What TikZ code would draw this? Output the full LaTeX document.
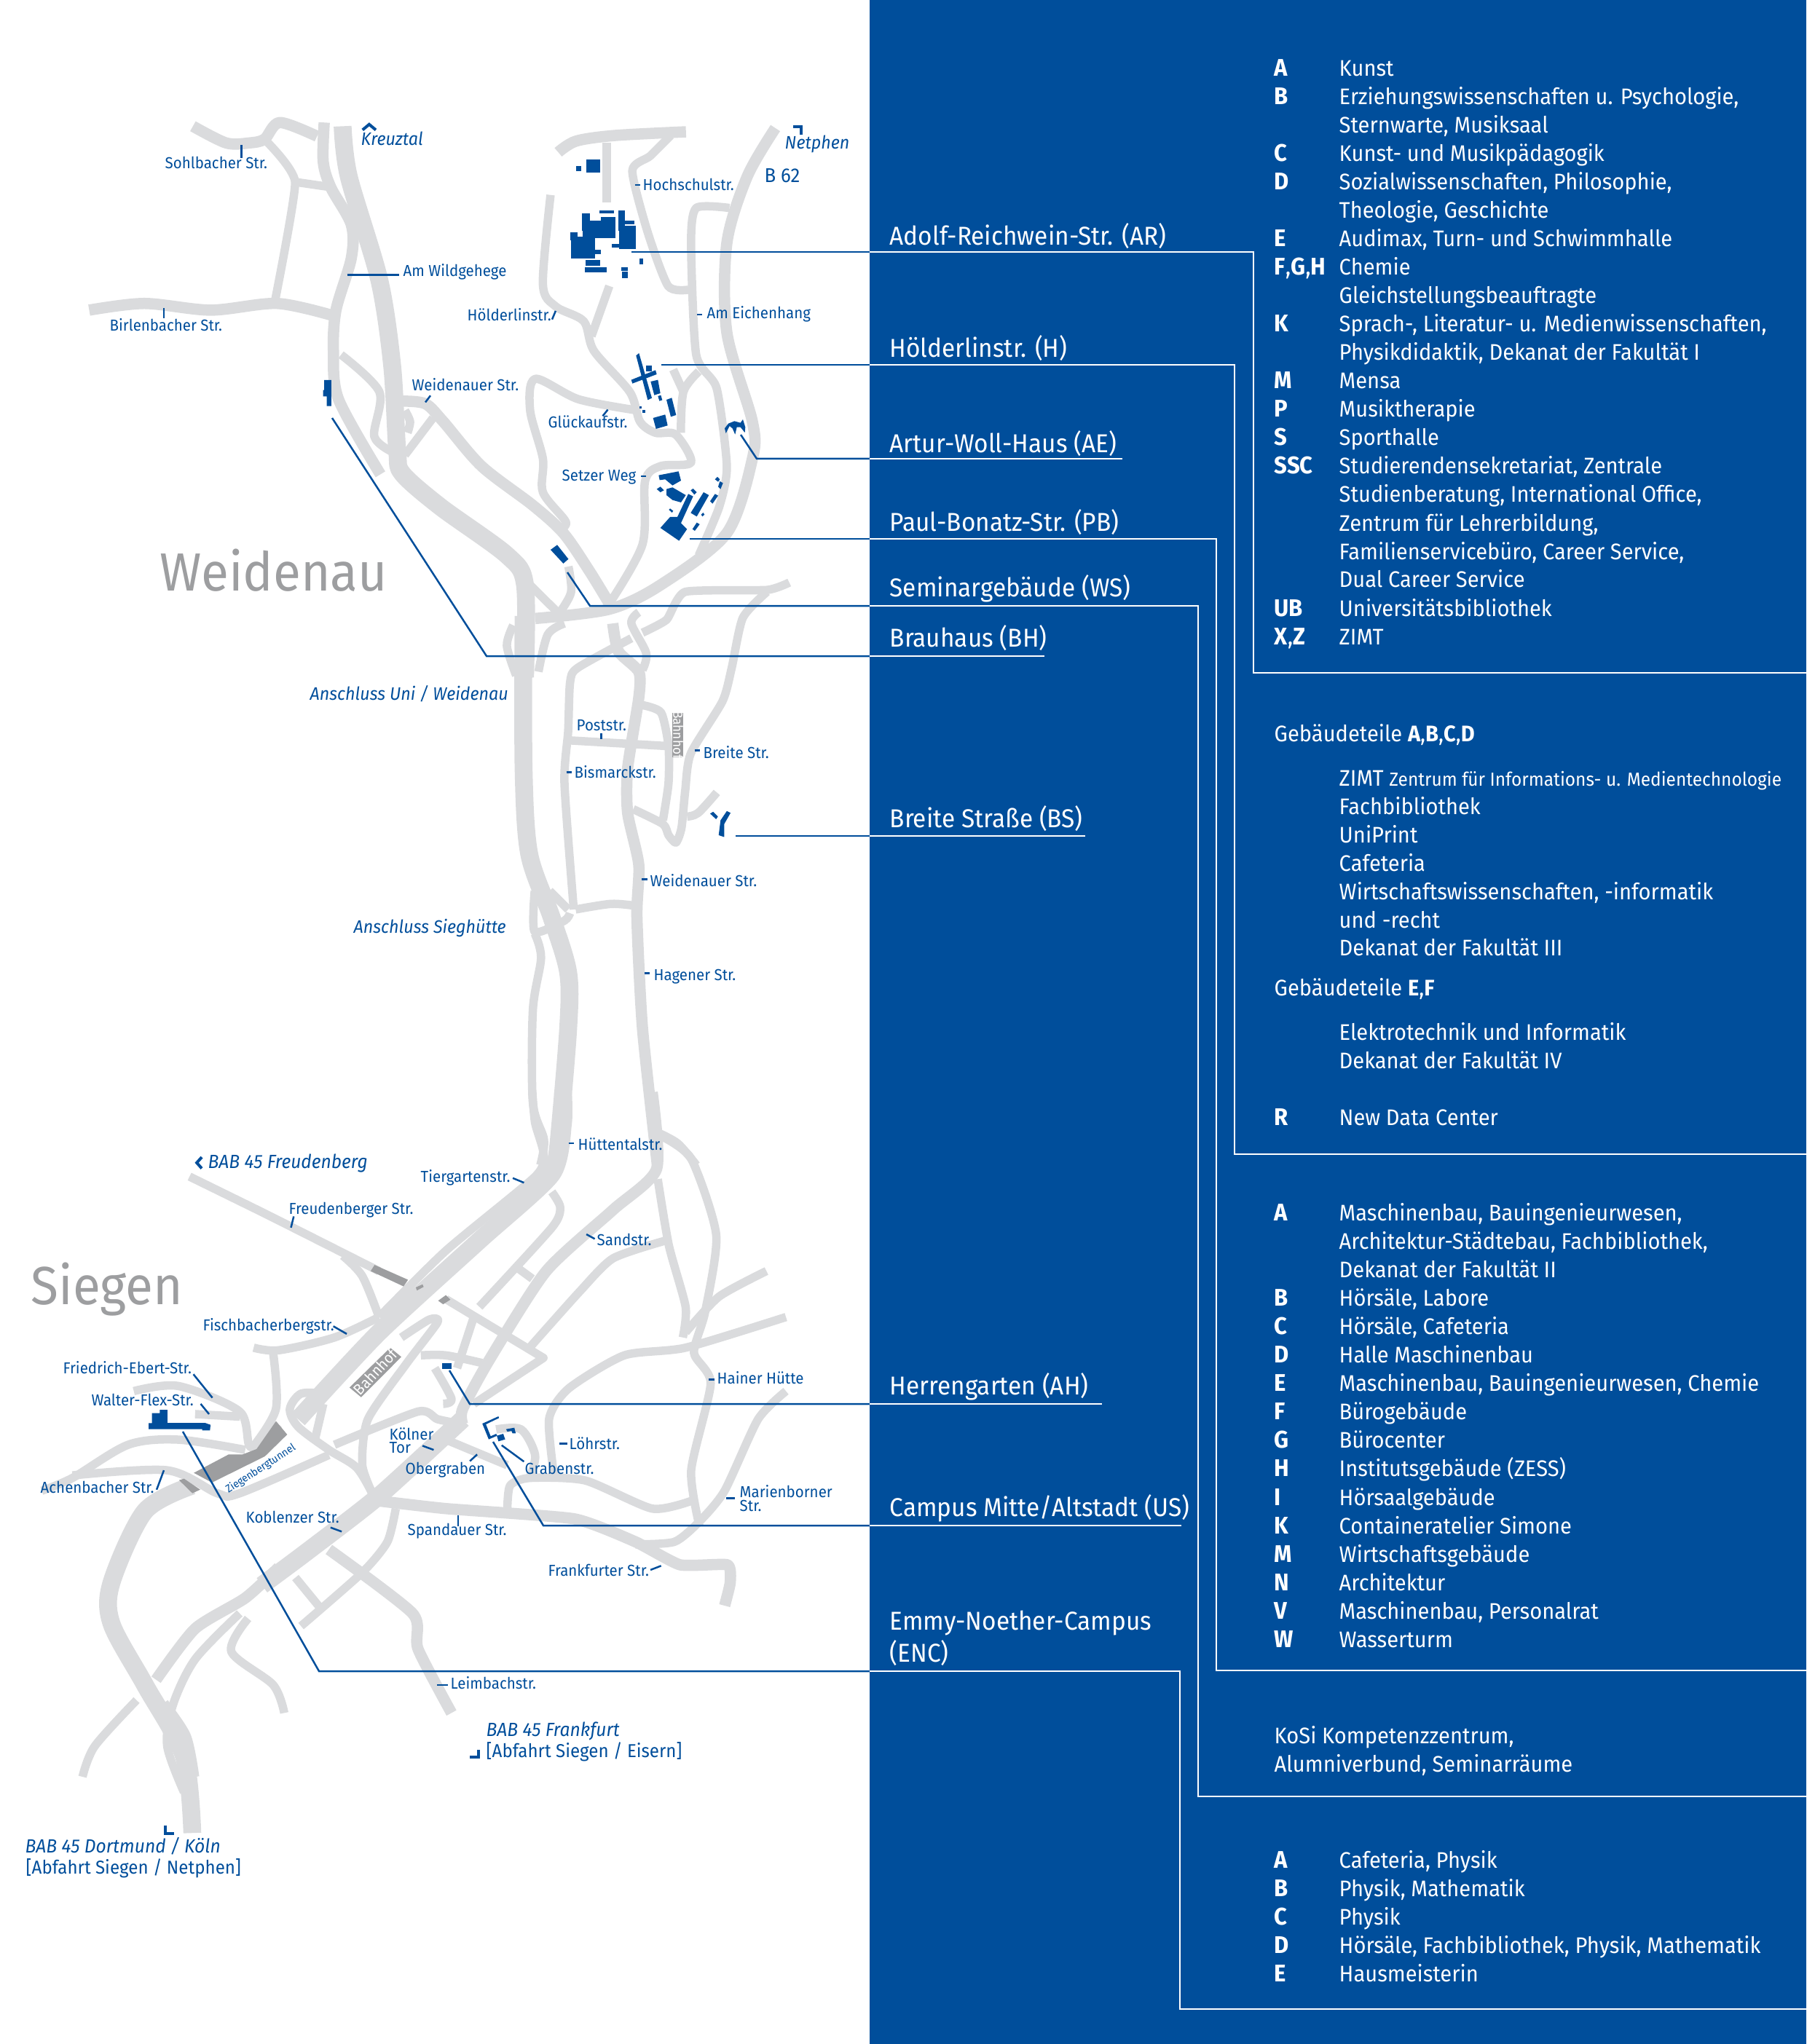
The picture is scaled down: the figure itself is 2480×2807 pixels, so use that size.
\documentclass[tikz,border=0pt]{standalone}
\usepackage{fontspec}
\setmainfont[FakeStretch=0.94]{Fira Sans}
\definecolor{unisiblue}{HTML}{004E9B}
\definecolor{roadgray}{HTML}{DADBDD}
\definecolor{tunnelgray}{HTML}{9D9EA0}

\begin{document}
\begin{tikzpicture}[x=0.01cm,y=-0.01cm]
        % Define styles
        \tikzset{
            sheetnorth/.style={shift={(100,130)},xscale=0.7015,yscale=0.5102},
            sheetmiddle/.style={shift={(400,800)},scale=0.5102},
            sheetsouth/.style={shift={(0,1500)},xscale=0.7653,yscale=0.7015},
            sheettop/.style={shift={(780,130)},scale=0.3333},
            sheetcampus/.style={shift={(860,470)},scale=0.3333},
            sheetdetail/.style={shift={(180,1900)},xscale=0.3827,yscale=0.3333},
            lane/.style={draw=roadgray, line width=0.115cm, line join=round},
            road/.style={draw=roadgray, line width=0.155cm, line join=round},
            motorway/.style={draw=roadgray, line width=0.245cm, line join=round},
            building/.style={fill=unisiblue},
            tunnel/.style={fill=tunnelgray},
            tick/.style={draw=unisiblue, line width=0.25mm},
            pointer/.style={draw=unisiblue, line width=0.4mm, miter limit=4},
            leader/.style={draw=unisiblue, line width=0.25mm},
            leaderwhite/.style={draw=white, line width=0.25mm},
            street/.style={anchor=base west, inner sep=0pt, text=unisiblue, font=\fontsize{6.2}{8}\selectfont},
            junction/.style={street, font=\fontsize{7.05}{9}\selectfont\itshape},
            motorwayexit/.style={street, font=\fontsize{7.45}{9}\selectfont\itshape},
            exitroad/.style={street, font=\fontsize{7.3}{9}\selectfont},
            town/.style={anchor=base west, inner sep=0pt, text=tunnelgray, font=\fontsize{21}{24}\selectfont},
            campus/.style={anchor=base west, inner sep=0pt, text=white, font=\fontsize{10.1}{12}\selectfont},
            entry/.style={anchor=base west, inner sep=0pt, text=white, font=\fontsize{8.8}{11}\selectfont},
            entrykey/.style={entry, font=\fontsize{9.4}{11}\selectfont\bfseries}
        }
        \useasboundingbox (0,0) rectangle (2480,2807);

        % Panel
        \fill[unisiblue] (1194,0) rectangle (2480,2807);

        % Roads, north
        \begin{scope}[sheetnorth]
            \draw[motorway] plot[smooth,tension=0.5] coordinates {(528,85) (540,220) (600,500) (625,730) (635,960) (645,1020) (720,1110) (850,1240) (885,1320) (885,1568)};
            \draw[road] plot[smooth,tension=0.5] coordinates {(235,85) (300,130) (345,130) (375,120) (405,75) (478,112)};
            \draw[lane] plot[smooth,tension=0.3] coordinates {(375,120) (435,235) (395,560)};
            \draw[lane] (435,235) -- (500,248);
            \draw[road] plot[smooth,tension=0.5] coordinates {(492,75) (490,180) (505,250) (545,350) (545,440) (515,580) (510,690) (520,820) (602,1022)};
            \draw[road] plot[smooth,tension=0.5] coordinates {(32,580) (140,562) (270,580) (400,562) (510,595)};
            \draw[lane] plot[smooth,tension=0.5] coordinates {(525,700) (600,800) (590,920) (630,965)};
            \draw[road] plot[smooth,tension=0.5] coordinates {(645,825) (690,832) (725,880) (800,1000) (900,1105) (960,1180) (1010,1280) (1050,1370)};
            \draw[lane] (705,870) -- (650,970);
            \draw[lane] plot[smooth,tension=0.5] coordinates {(650,850) (660,880) (655,910)};
            \draw[road] plot[smooth,tension=0.5] coordinates {(950,155) (985,125) (1060,110) (1200,100)};
            \draw[lane] (1045,130) -- (1045,290);
            \draw[lane] plot[smooth,tension=0.4] coordinates {(1170,110) (1130,165) (1095,205) (1125,370) (1165,515) (1205,525)};
            \draw[lane] plot[smooth,tension=0.5] coordinates {(935,270) (920,510) (945,570) (1000,610) (1020,690) (1090,800) (1110,880) (1140,910) (1180,915) (1210,990) (1150,1000) (1120,1040) (1115,1210) (1050,1370)};
            \draw[lane] (1050,515) -- (1015,650);
            \draw[road] plot[smooth,tension=0.5] coordinates {(1375,90) (1320,220) (1280,400) (1280,640) (1330,880) (1330,980) (1280,1180) (1150,1320) (1050,1385) (905,1410)};
            \draw[lane] plot[smooth,tension=0.4] coordinates {(1285,305) (1220,305) (1210,400) (1220,700) (1260,790) (1280,1000) (1265,1110) (1225,1240)};
            \draw[lane] plot[smooth,tension=0.5] coordinates {(1225,745) (1195,800) (1190,910)};
            \draw[lane] (1175,740) -- (1195,800);
            \draw[lane] plot[smooth,tension=0.5] coordinates {(1105,850) (990,820) (905,765) (895,850) (920,980) (920,1070) (965,1150) (950,1170)};
            \draw[lane] plot[smooth,tension=0.5] coordinates {(970,1270) (975,1340) (950,1400)};
            \draw[lane] (895,1320) -- (950,1395);
        \end{scope}

        % Roads, middle
        \begin{scope}[sheetmiddle]
            \draw[motorway] plot[smooth,tension=0.5] coordinates {(625,90) (625,500) (640,730) (700,900) (745,1050) (745,1200) (720,1500) (710,1568)};
            \draw[lane] plot[smooth,tension=0.5] coordinates {(597,115) (580,170) (605,250)};
            \draw[lane] plot[smooth,tension=0.5] coordinates {(735,110) (690,140) (665,240)};
            \draw[road] plot[smooth,tension=0.4] coordinates {(865,110) (880,185) (935,240) (935,310) (905,500) (905,620) (935,760) (930,900) (945,1200) (985,1568)};
            \draw[lane] plot[smooth,tension=0.4] coordinates {(915,150) (770,230) (750,270) (745,400) (735,540) (760,880)};
            \draw[lane] plot[smooth,tension=0.5] coordinates {(935,80) (915,110) (955,190) (945,235)};
            \draw[lane] plot[smooth,tension=0.3] coordinates {(945,135) (1010,100) (1060,25) (1280,20) (1340,0)};
            \draw[lane] plot[smooth,tension=0.4] coordinates {(1280,25) (1215,95) (1185,230) (1160,320) (1075,460) (1060,560) (1050,660) (1035,700) (1015,680) (1000,650) (920,610)};
            \draw[lane] plot[smooth,tension=0.4] coordinates {(945,330) (995,350) (1015,440) (1015,540) (1000,640)};
            \draw[lane] (750,425) -- (1010,440);
            \draw[lane] plot[smooth,tension=0.5] coordinates {(1065,630) (1095,620) (1145,565)};
            \draw[lane] plot[smooth,tension=0.5] coordinates {(765,880) (860,865) (925,870)};
            \draw[lane] plot[smooth,tension=0.4] coordinates {(655,830) (655,940) (735,910) (750,890)};
            \draw[lane] plot[smooth,tension=0.5] coordinates {(655,945) (672,1010) (650,1150) (650,1400) (680,1500) (670,1568)};
            \draw[lane] (695,830) -- (745,880);
            \draw[lane] plot[smooth,tension=0.5] coordinates {(985,1480) (1040,1510) (1090,1568)};
        \end{scope}

        % Roads, south
        \begin{scope}[sheetsouth]
            \draw[motorway] plot[smooth,tension=0.4] coordinates {(1010,0) (1010,60) (990,160) (860,290) (680,470) (535,640)};
            \draw[motorway] plot[smooth,tension=0.5] coordinates {(345,770) (260,820) (200,960) (200,1040) (260,1160) (330,1300) (345,1450)};
            \draw[lane] plot[smooth,tension=0.4] coordinates {(955,0) (960,60) (975,120) (960,165) (800,310) (680,440)};
            \draw[road] plot[smooth,tension=0.4] coordinates {(1170,0) (1178,150) (1100,230) (980,350) (880,520) (830,620) (830,650)};
            \draw[motorway] plot[smooth,tension=0.4] coordinates {(830,640) (680,790) (550,900) (470,965)};
            \draw[road] plot[smooth,tension=0.4] coordinates {(500,930) (440,990) (350,1050) (280,1150)};
            \draw[lane] plot[smooth,tension=0.4] coordinates {(990,195) (1005,225) (990,265) (860,420)};
            \draw[lane] (930,345) -- (955,365);
            \draw[lane] plot[smooth,tension=0.4] coordinates {(1180,170) (1200,300) (1230,420) (1225,480)};
            \draw[lane] plot[smooth,tension=0.4] coordinates {(1185,85) (1240,130) (1285,280) (1265,430) (1245,510) (1275,570) (1240,740) (1255,850)};
            \draw[lane] plot[smooth,tension=0.4] coordinates {(1195,290) (1100,325) (1040,390) (950,500)};
            \draw[lane] plot[smooth,tension=0.2] coordinates {(340,165) (480,240) (680,350)};
            \draw[lane] (800,405) -- (975,520) -- (850,610);
            \draw[lane] plot[smooth,tension=0.5] coordinates {(615,320) (650,360) (680,440)};
            \draw[lane] plot[smooth,tension=0.5] coordinates {(455,500) (500,505) (600,480) (680,440)};
            \draw[lane] plot[smooth,tension=0.5] coordinates {(490,510) (495,620) (450,700)};
            \draw[lane] plot[smooth,tension=0.5] coordinates {(240,585) (320,575) (430,625) (450,695) (500,650)};
            \draw[lane] (350,630) -- (430,635);
            \draw[lane] plot[smooth,tension=0.5] coordinates {(75,780) (130,755) (230,690) (320,680) (440,700)};
            \draw[lane] plot[smooth,tension=0.5] coordinates {(130,750) (300,740) (390,785) (430,785) (590,710)};
            \draw[lane] plot[smooth,tension=0.4] coordinates {(600,690) (750,625) (785,640) (830,650)};
            \draw[lane] plot[smooth,tension=0.5] coordinates {(580,590) (540,590) (520,620) (535,655) (590,700) (640,735) (670,790)};
            \draw[lane] plot[smooth,tension=0.5] coordinates {(580,610) (565,680)};
            \draw[lane] plot[smooth,tension=0.4] coordinates {(670,790) (650,730) (660,640) (730,530) (785,450) (770,445) (720,480)};
            \draw[road] plot[smooth,tension=0.3] coordinates {(680,800) (800,815) (1030,835) (1140,880) (1220,925) (1305,925) (1310,960) (1300,1005)};
            \draw[lane] plot[smooth,tension=0.4] coordinates {(710,815) (695,880) (650,940) (540,1045)};
            \draw[road] plot[smooth,tension=0.4] coordinates {(590,895) (740,1020) (750,1090) (810,1215)};
            \draw[lane] (530,950) -- (575,1010);
            \draw[lane] plot[smooth,tension=0.4] coordinates {(910,820) (915,770) (950,755) (1050,760) (1170,815) (1240,800)};
            \draw[lane] plot[smooth,tension=0.4] coordinates {(1140,885) (1210,880) (1255,840) (1300,780) (1360,640) (1410,585)};
            \draw[lane] plot[smooth,tension=0.4] coordinates {(995,760) (985,640) (1020,580) (1120,515) (1230,500) (1410,440)};
            \draw[lane] plot[smooth,tension=0.4] coordinates {(1230,470) (1290,400) (1375,350)};
            \draw[lane] (850,440) -- (820,540);
            \draw[lane] plot[smooth,tension=0.5] coordinates {(755,515) (800,515) (865,530)};
            \draw[lane] plot[smooth,tension=0.5] coordinates {(780,540) (810,600) (795,610)};
            \draw[lane] (800,680) -- (910,730);
            \draw[lane] plot[smooth,tension=0.5] coordinates {(890,660) (935,660) (960,710) (950,755)};
            \draw[lane] plot[smooth,tension=0.5] coordinates {(445,1030) (415,1095) (490,1160) (510,1215)};
            \draw[lane] plot[smooth,tension=0.5] coordinates {(430,1020) (350,1110) (310,1200) (300,1280) (330,1370)};
            \draw[lane] plot[smooth,tension=0.5] coordinates {(245,1190) (170,1280) (148,1340)};
            \draw[lane] plot[smooth,tension=0.5] coordinates {(295,1195) (335,1260) (350,1340)};

            % Stations
            \fill[tunnel] (665,350) -- (672,338) -- (732,367) -- (724,380) -- cycle;
            \fill[tunnel] (786,408) -- (800,397) -- (808,406) -- (795,415) -- cycle;
            \fill[tunnel] (746,382) -- (758,376) -- (760,381) -- (748,388) -- cycle;
            \fill[tunnel] (627,578) -- (700,500) -- (720,518) -- (648,597) -- cycle;
        \end{scope}
        \begin{scope}[sheetdetail]
            % Tunnel mouths
            \fill[tunnel] (225,368) -- (350,292) -- (400,292) -- (450,270) -- (520,155) -- (560,210) -- (480,300) -- (290,408) -- cycle;
            \fill[tunnel] (172,398) -- (190,392) -- (248,437) -- (220,452) -- cycle;
        \end{scope}
        \fill[tunnel] (923,979) rectangle (938,1040);

        % Labels on tunnels and stations
        \node[rotate=47, text=white, inner sep=0pt, font=\fontsize{6}{7}\selectfont] (station_south) at (515,1884) {Bahnhof};
        \node[rotate=-90, text=white, inner sep=0pt, font=\fontsize{5.2}{6}\selectfont] (station_north) at (931,1009) {Bahnhof};
        \node[rotate=33, text=unisiblue, inner sep=0pt, font=\fontsize{4.2}{5}\selectfont] (tunnel_label) at (358,2017) {Ziegenbergtunnel};

        % Buildings
        \begin{scope}[sheettop]
            \foreach \xa/\ya/\xb/\yb in {76/268/132/322, 32/295/55/315, 8/568/38/600, 12/585/110/675, 58/490/90/560, 60/520/135/590, 135/505/195/590, 130/478/190/490, 208/478/235/560, 210/540/278/635, 232/520/272/535, 180/615/235/630, 110/640/135/658, 72/680/132/705, 70/712/158/732, 295/675/310/700, 218/710/245/725, 222/730/245/755}
                \fill[building] (\xa,\ya) rectangle (\xb,\yb);
        \end{scope}
        \begin{scope}[sheetcampus]
            % Hoelderlinstr.
            \fill[building] (40,55) -- (52,45) -- (105,230) -- (88,238) -- cycle;
            \fill[building] (20,155) -- (120,115) -- (125,132) -- (25,170) -- cycle;
            \fill[building] (80,97) rectangle (105,120);
            \fill[building] (100,162) -- (130,155) -- (140,210) -- (115,218) -- cycle;
            \fill[building] (130,222) -- (142,218) -- (148,238) -- (136,242) -- cycle;
            \fill[building] (165,237) -- (187,229) -- (205,300) -- (183,307) -- cycle;
            \fill[building] (110,312) -- (160,298) -- (170,343) -- (122,357) -- cycle;
            \fill[building] (55,265) rectangle (62,272);
            \fill[building] (65,278) rectangle (78,290);
            % Artur-Woll-Haus
            \fill[building] (405,355) -- (420,335) -- (445,325) -- (470,332) -- (480,318) -- (490,350) -- (488,372) -- (470,350) -- (455,350) -- (448,380) -- (437,355) -- (425,345) -- (410,375) -- cycle;
            % Paul-Bonatz-Str.
            \fill[building] (133,548) -- (215,532) -- (225,570) -- (190,590) -- (160,565) -- (137,568) -- cycle;
            \fill[building] (125,605) -- (140,595) -- (155,610) -- (140,618) -- cycle;
            \fill[building] (165,605) -- (190,598) -- (245,630) -- (225,660) -- (190,650) -- (165,630) -- cycle;
            \fill[building] (140,765) -- (180,720) -- (210,720) -- (255,625) -- (275,635) -- (225,745) -- (250,770) -- (217,818) -- cycle;
            \fill[building] (265,610) -- (275,603) -- (290,618) -- (280,628) -- cycle;
            \fill[building] (318,618) -- (340,630) -- (290,718) -- (265,703) -- cycle;
            \fill[building] (365,565) -- (375,555) -- (385,565) -- (378,575) -- cycle;
            \fill[building] (378,595) -- (385,573) -- (398,580) -- (388,605) -- cycle;
            \fill[building] (345,655) -- (365,625) -- (378,632) -- (355,665) -- cycle;
            \fill[building] (272,770) -- (290,743) -- (302,750) -- (282,777) -- cycle;
            \fill[building] (308,710) -- (316,702) -- (322,710) -- (313,718) -- cycle;
            \fill[building] (175,690) -- (180,685) -- (193,695) -- (188,702) -- cycle;
        \end{scope}
        \begin{scope}[sheetnorth]
            % Seminargebaeude
            \fill[building] (935,1225) -- (948,1212) -- (970,1250) -- (960,1262) -- cycle;
            % Brauhaus
            \fill[building] (492,768) -- (506,768) -- (506,838) -- (497,838) -- (497,812) -- (490,812) -- (490,795) -- (492,795) -- cycle;
        \end{scope}
        \begin{scope}[sheetmiddle]
            % Breite Strasse
            \fill[building] (1127,622) -- (1135,617) -- (1148,630) -- (1143,637) -- cycle;
            \fill[building] (1150,680) -- (1155,640) -- (1172,615) -- (1182,620) -- (1165,650) -- (1165,685) -- cycle;
        \end{scope}
        \begin{scope}[sheetsouth]
            % Herrengarten
            \fill[building] (793,530) rectangle (810,541);
        \end{scope}
        \begin{scope}[sheetdetail]
            % Campus Mitte / Altstadt
            \fill[building] (1260,165) -- (1318,135) -- (1320,142) -- (1273,168) -- (1290,217) -- (1310,207) -- (1313,215) -- (1283,230) -- cycle;
            \fill[building] (1312,215) -- (1335,207) -- (1342,230) -- (1318,238) -- cycle;
            \fill[building] (1345,188) -- (1375,182) -- (1380,205) -- (1368,205) -- (1365,195) -- (1350,198) -- cycle;
            % Emmy-Noether-Campus
            \fill[building] (63,163) -- (75,163) -- (75,122) -- (103,122) -- (103,108) -- (130,108) -- (130,162) -- (265,162) -- (285,170) -- (283,193) -- (255,193) -- (255,188) -- (63,188) -- cycle;
        \end{scope}

        % Street ticks
        \begin{scope}[sheetnorth]
            \foreach \xa/\ya/\xb/\yb in {330/135/330/170, 178/575/178/602, 537/485/638/485, 945/582/938/605, 1100/243/1110/243, 1222/592/1232/592, 700/810/690/828, 1047/848/1037/865, 1112/1027/1122/1027}
                \draw[tick] (\xa,\ya) -- (\xb,\yb);
        \end{scope}
        \begin{scope}[sheetmiddle]
            \foreach \xa/\ya/\xb/\yb in {834/405/834/422, 1085/452/1100/452, 740/511/755/511, 943/799/958/799, 950/1052/965/1052, 746/1509/760/1509}
                \draw[tick] (\xa,\ya) -- (\xb,\yb);
        \end{scope}
        \begin{scope}[sheetsouth]
            \foreach \xa/\ya/\xb/\yb in {920/168/940/177, 527/243/522/265, 1052/278/1067/287, 598/458/622/473, 347/552/381/598, 360/610/375/630, 1272/562/1282/562, 758/692/778/700, 1003/688/1018/688, 856/709/843/722, 900/691/940/723, 294/740/281/778, 1303/795/1318/795, 593/852/613/860, 822/828/822/850, 1167/935/1186/927, 784/1160/803/1160}
                \draw[tick] (\xa,\ya) -- (\xb,\yb);
            % Direction marks
            \draw[pointer] (362,127) -- (353,138) -- (362,149);
            \draw[pointer] (296,1435) -- (296,1451) -- (312,1451);
            \draw[pointer] (843,1302) -- (858,1302) -- (858,1287);
        \end{scope}
        \begin{scope}[sheetnorth]
            \draw[pointer] (567,95) -- (580,80) -- (593,95);
            \draw[pointer] (1410,87) -- (1425,87) -- (1425,108);
        \end{scope}

        % Street labels
        \node[street] (sohlbacher) at (226,232) {Sohlbacher Str.};
        \node[street] (birlenbacher) at (150,455) {Birlenbacher Str.};
        \node[street] (wildgehege) at (553,380) {Am Wildgehege};
        \node[street] (hoelderlin) at (641,441) {Hölderlinstr.};
        \node[street] (hochschul) at (882,262) {Hochschulstr.};
        \node[street] (eichenhang) at (970,438) {Am Eichenhang};
        \node[street] (weidenauer_north) at (565,537) {Weidenauer Str.};
        \node[street] (glueckauf) at (752,588) {Glückaufstr.};
        \node[street] (setzer) at (771,661) {Setzer Weg};
        \node[street] (poststr) at (791,1003) {Poststr.};
        \node[street] (breite) at (965,1041) {Breite Str.};
        \node[street] (bismarck) at (788,1068) {Bismarckstr.};
        \node[street] (weidenauer_south) at (892,1217) {Weidenauer Str.};
        \node[street] (hagener) at (897,1346) {Hagener Str.};
        \node[street] (huettental) at (793,1579) {Hüttentalstr.};
        \node[street] (tiergarten) at (577,1623) {Tiergartenstr.};
        \node[street] (freudenberger) at (396,1667) {Freudenberger Str.};
        \node[street] (sandstr) at (819,1710) {Sandstr.};
        \node[street] (fischbacher) at (278,1827) {Fischbacherbergstr.};
        \node[street] (friedrich) at (86,1886) {Friedrich-Ebert-Str.};
        \node[street] (walter) at (125,1930) {Walter-Flex-Str.};
        \node[street] (hainer) at (984,1900) {Hainer Hütte};
        \node[street] (koelner) at (534,1977) {Kölner};
        \node[street] (koelnertor) at (534,1995) {Tor};
        \node[street] (loehr) at (781,1990) {Löhrstr.};
        \node[street] (obergraben) at (556,2024) {Obergraben};
        \node[street] (graben) at (720,2024) {Grabenstr.};
        \node[street] (achenbacher) at (55,2050) {Achenbacher Str.};
        \node[street] (marienborner) at (1015,2056) {Marienborner};
        \node[street] (marienbornerstr) at (1015,2075) {Str.};
        \node[street] (koblenzer) at (337,2091) {Koblenzer Str.};
        \node[street] (spandauer) at (559,2108) {Spandauer Str.};
        \node[street] (frankfurter) at (752,2164) {Frankfurter Str.};
        \node[street] (leimbach) at (618,2319) {Leimbachstr.};

        % Junction labels
        \node[junction] (kreuztal) at (495,200) {Kreuztal};
        \node[junction] (netphen) at (1077,205) {Netphen};
        \node[street, font=\fontsize{7.8}{9}\selectfont] (b62) at (1049,251) {B 62};
        \node[junction] (anschluss_uni) at (425,961) {Anschluss Uni / Weidenau};
        \node[junction] (anschluss_sieg) at (485,1281) {Anschluss Sieghütte};
        \node[motorwayexit] (freudenberg) at (285,1604) {BAB 45 Freudenberg};
        \node[motorwayexit] (frankfurt) at (667,2384) {BAB 45 Frankfurt};
        \node[exitroad] (eisern) at (667,2413) {[Abfahrt Siegen / Eisern]};
        \node[motorwayexit] (dortmund) at (34,2544) {BAB 45 Dortmund / Köln};
        \node[exitroad] (netphen_exit) at (35,2573) {[Abfahrt Siegen / Netphen]};

        % Towns
        \node[town] (weidenau) at (219,811) {Weidenau};
        \node[town] (siegen) at (42,1791) {Siegen};

        % Campus labels
        \node[campus] (label_ar) at (1221,337) {Adolf-Reichwein-Str. (AR)};
        \node[campus] (label_h) at (1221,491) {Hölderlinstr. (H)};
        \node[campus] (label_ae) at (1221,622) {Artur-Woll-Haus (AE)};
        \node[campus] (label_pb) at (1221,729) {Paul-Bonatz-Str. (PB)};
        \node[campus] (label_ws) at (1221,819) {Seminargebäude (WS)};
        \node[campus] (label_bh) at (1221,888) {Brauhaus (BH)};
        \node[campus] (label_bs) at (1221,1136) {Breite Straße (BS)};
        \node[campus] (label_ah) at (1221,1915) {Herrengarten (AH)};
        \node[campus] (label_us) at (1221,2082) {Campus Mitte/Altstadt (US)};
        \node[campus] (label_enc) at (1221,2238) {Emmy-Noether-Campus};
        \node[campus] (label_enc_short) at (1221,2282) {(ENC)};

        % Leader points
        \coordinate (ar_start) at (867,346);
        \coordinate (ar_edge) at (1194,346);
        \coordinate (ar_turn) at (1721,346);
        \coordinate (ar_foot) at (1721,924);
        \coordinate (ar_end) at (2480,924);
        \coordinate (h_start) at (908,501);
        \coordinate (h_edge) at (1194,501);
        \coordinate (h_turn) at (1695,501);
        \coordinate (h_foot) at (1695,1585);
        \coordinate (h_end) at (2480,1585);
        \coordinate (ae_start) at (1017,597);
        \coordinate (ae_bend) at (1039,630);
        \coordinate (ae_edge) at (1194,630);
        \coordinate (ae_end) at (1541,630);
        \coordinate (pb_start) at (947,740);
        \coordinate (pb_edge) at (1194,740);
        \coordinate (pb_turn) at (1670,740);
        \coordinate (pb_foot) at (1670,2294);
        \coordinate (pb_end) at (2480,2294);
        \coordinate (ws_start) at (779,786);
        \coordinate (ws_bend) at (810,832);
        \coordinate (ws_edge) at (1194,832);
        \coordinate (ws_turn) at (1645,832);
        \coordinate (ws_foot) at (1645,2467);
        \coordinate (ws_end) at (2480,2467);
        \coordinate (bh_start) at (456,574);
        \coordinate (bh_bend) at (668,901);
        \coordinate (bh_edge) at (1194,901);
        \coordinate (bh_end) at (1434,901);
        \coordinate (bs_start) at (1010,1148);
        \coordinate (bs_edge) at (1194,1148);
        \coordinate (bs_end) at (1490,1148);
        \coordinate (ah_start) at (617,1882);
        \coordinate (ah_bend) at (645,1928);
        \coordinate (ah_edge) at (1194,1928);
        \coordinate (ah_end) at (1513,1928);
        \coordinate (us_start) at (677,1980);
        \coordinate (us_bend) at (746,2095);
        \coordinate (us_edge) at (1194,2095);
        \coordinate (us_end) at (1622,2095);
        \coordinate (enc_start) at (251,1966);
        \coordinate (enc_bend) at (438,2295);
        \coordinate (enc_edge) at (1194,2295);
        \coordinate (enc_turn) at (1620,2295);
        \coordinate (enc_foot) at (1620,2759);
        \coordinate (enc_end) at (2480,2759);

        % Leaders
        \draw[leader] (ar_start) -- (ar_edge);
        \draw[leaderwhite] (ar_edge) -- (ar_turn) -- (ar_foot) -- (ar_end);
        \draw[leader] (h_start) -- (h_edge);
        \draw[leaderwhite] (h_edge) -- (h_turn) -- (h_foot) -- (h_end);
        \draw[leader] (ae_start) -- (ae_bend) -- (ae_edge);
        \draw[leaderwhite] (ae_edge) -- (ae_end);
        \draw[leader] (pb_start) -- (pb_edge);
        \draw[leaderwhite] (pb_edge) -- (pb_turn) -- (pb_foot) -- (pb_end);
        \draw[leader] (ws_start) -- (ws_bend) -- (ws_edge);
        \draw[leaderwhite] (ws_edge) -- (ws_turn) -- (ws_foot) -- (ws_end);
        \draw[leader] (bh_start) -- (bh_bend) -- (bh_edge);
        \draw[leaderwhite] (bh_edge) -- (bh_end);
        \draw[leader] (bs_start) -- (bs_edge);
        \draw[leaderwhite] (bs_edge) -- (bs_end);
        \draw[leader] (ah_start) -- (ah_bend) -- (ah_edge);
        \draw[leaderwhite] (ah_edge) -- (ah_end);
        \draw[leader] (us_start) -- (us_bend) -- (us_edge);
        \draw[leaderwhite] (us_edge) -- (us_end);
        \draw[leader] (enc_start) -- (enc_bend) -- (enc_edge);
        \draw[leaderwhite] (enc_edge) -- (enc_turn) -- (enc_foot) -- (enc_end);

        % Panel keys
        \foreach \y/\k [count=\i] in {105/A, 144/B, 222/C, 261/D, 339/E, 378/{F{\mdseries,}G{\mdseries,}H}, 456/K, 534/M, 573/P, 612/S, 651/SSC, 846/UB, 885/{X{\mdseries,}Z},
                               1545/R,
                               1676/A, 1793/B, 1832/C, 1871/D, 1910/E, 1949/F, 1988/G, 2027/H, 2067/I, 2106/K, 2145/M, 2184/N, 2223/V, 2262/W,
                               2565/A, 2604/B, 2643/C, 2682/D, 2721/E}
            \node[entrykey] (key\i) at (1749,\y) {\k};

        % Panel entries
        \foreach \y/\t [count=\i] in {105/Kunst, 144/{Erziehungswissenschaften u. Psychologie,}, 183/{Sternwarte, Musiksaal}, 222/Kunst- und Musikpädagogik, 261/{Sozialwissenschaften, Philosophie,}, 300/{Theologie, Geschichte}, 339/{Audimax, Turn- und Schwimmhalle}, 378/Chemie, 417/Gleichstellungsbeauftragte, 456/{Sprach-, Literatur- u. Medienwissenschaften,}, 495/{Physikdidaktik, Dekanat der Fakultät I}, 534/Mensa, 573/Musiktherapie, 612/Sporthalle, 651/{Studierendensekretariat, Zentrale}, 690/{Studienberatung, International Office,}, 729/{Zentrum für Lehrerbildung,}, 768/{Familienservicebüro, Career Service,}, 807/Dual Career Service, 846/Universitätsbibliothek, 885/ZIMT,
                               1079/{ZIMT {\fontsize{7.4}{9}\selectfont Zentrum für Informations- u. Medientechnologie}}, 1118/Fachbibliothek, 1157/UniPrint, 1196/Cafeteria, 1235/{Wirtschaftswissenschaften, -informatik}, 1274/und -recht, 1312/Dekanat der Fakultät III, 1428/Elektrotechnik und Informatik, 1467/Dekanat der Fakultät IV, 1545/New Data Center,
                               1676/{Maschinenbau, Bauingenieurwesen,}, 1715/{Architektur-Städtebau, Fachbibliothek,}, 1754/Dekanat der Fakultät II, 1793/{Hörsäle, Labore}, 1832/{Hörsäle, Cafeteria}, 1871/Halle Maschinenbau, 1910/{Maschinenbau, Bauingenieurwesen, Chemie}, 1949/Bürogebäude, 1988/Bürocenter, 2027/Institutsgebäude (ZESS), 2067/Hörsaalgebäude, 2106/Containeratelier Simone, 2145/Wirtschaftsgebäude, 2184/Architektur, 2223/{Maschinenbau, Personalrat}, 2262/Wasserturm,
                               2565/{Cafeteria, Physik}, 2604/{Physik, Mathematik}, 2643/Physik, 2682/{Hörsäle, Fachbibliothek, Physik, Mathematik}, 2721/Hausmeisterin}
            \node[entry] (entry\i) at (1838,\y) {\t};

        % Panel headings
        \node[entry] (parts_ho) at (1749,1018) {Gebäudeteile \textbf{A},\textbf{B},\textbf{C},\textbf{D}};
        \node[entry] (parts_ef) at (1749,1367) {Gebäudeteile \textbf{E},\textbf{F}};
        \node[entry] (kosi) at (1749,2394) {KoSi Kompetenzzentrum,};
        \node[entry] (kosi_more) at (1749,2433) {Alumniverbund, Seminarräume};
\end{tikzpicture}
\end{document}
